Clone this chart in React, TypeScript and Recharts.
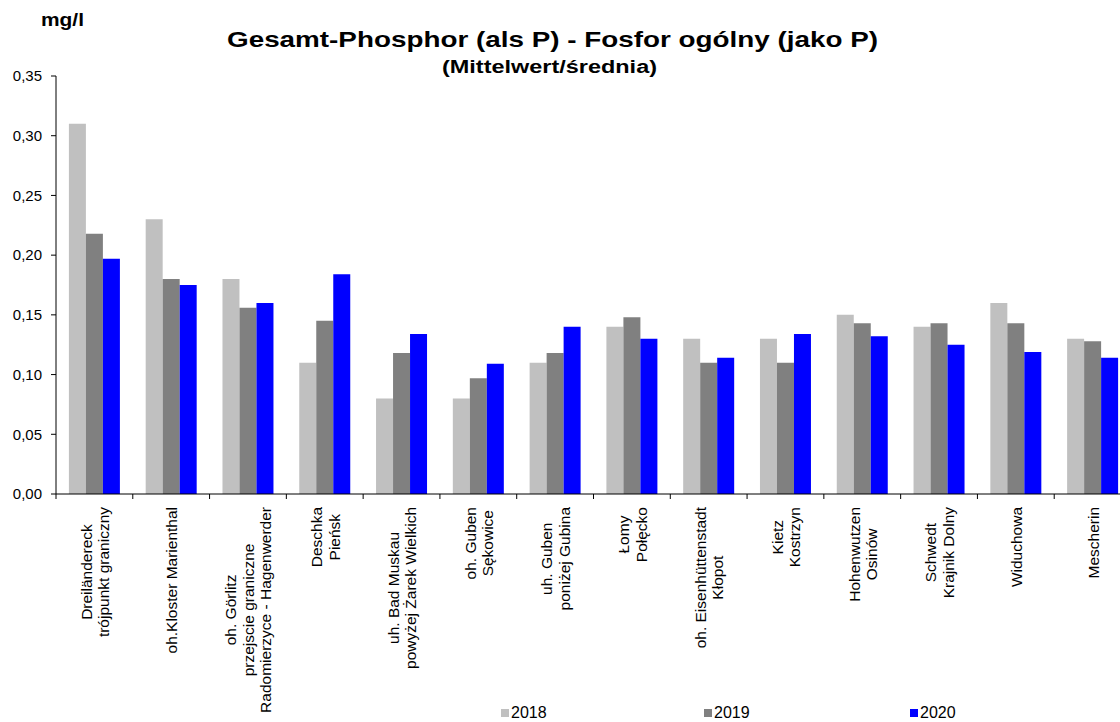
import { Bar, BarChart, Legend, XAxis, YAxis } from "recharts";

// Gesamt-Phosphor, mean per station, 2018-2020 (Excel-style grouped bars).

const categories = [
  "Dreiländereck\ntrójpunkt graniczny",
  "oh.Kloster Marienthal",
  "oh. Görlitz\nprzejscie graniczne\nRadomierzyce - Hagenwerder",
  "Deschka\nPieńsk",
  "uh. Bad Muskau\npowyżej Żarek Wielkich",
  "oh. Guben\nSękowice",
  "uh. Guben\nponiżej Gubina",
  "Łomy\nPołęcko",
  "oh. Eisenhüttenstadt\nKłopot",
  "Kietz\nKostrzyn",
  "Hohenwutzen\nOsinów",
  "Schwedt\nKrajnik Dolny",
  "Widuchowa",
  "Mescherin",
];

const values2018 = [0.31, 0.23, 0.18, 0.11, 0.08, 0.08, 0.11, 0.14, 0.13, 0.13, 0.15, 0.14, 0.16, 0.13];
const values2019 = [0.218, 0.18, 0.156, 0.145, 0.118, 0.097, 0.118, 0.148, 0.11, 0.11, 0.143, 0.143, 0.143, 0.128];
const values2020 = [0.197, 0.175, 0.16, 0.184, 0.134, 0.109, 0.14, 0.13, 0.114, 0.134, 0.132, 0.125, 0.119, 0.114];

const yTicks = [0, 0.05, 0.1, 0.15, 0.2, 0.25, 0.3, 0.35];

const seriesNames = ["2018", "2019", "2020"];
const seriesColors = ["#c0c0c0", "#808080", "#0000ff"];

const data = categories.map((name, i) => ({
  name,
  s2018: values2018[i],
  s2019: values2019[i],
  s2020: values2020[i],
}));

const FONT = '"Liberation Sans", Arial, sans-serif';
const LABEL_SIZE = 15.5;
const LINE_H = 17.5;

// canvas is only used to find the longest line so the label block can be
// centred like Excel does
const measureCtx =
  typeof document !== "undefined" ? document.createElement("canvas").getContext("2d") : null;
const textWidth = (s: string) => {
  if (!measureCtx) return s.length * 7;
  measureCtx.font = `${LABEL_SIZE}px ${FONT}`;
  return measureCtx.measureText(s).width;
};

const fmt = (v: number) => v.toFixed(2).replace(".", ",");

const CategoryTick = (props: any) => {
  const { x, y, payload } = props;
  const half = payload?.offset ?? 38.4;
  const lines = String(payload.value).split("\n");
  const maxW = Math.max(...lines.map(textWidth));
  const n = lines.length;
  return (
    <g>
      {/* Excel puts the tick marks between categories */}
      <line x1={x - half} x2={x - half} y1={y} y2={y + 5} stroke="#000" />
      <g transform={`translate(${x + 6}, ${y + 13 + maxW / 2}) rotate(-90)`}>
        {lines.map((l, i) => (
          <text
            key={i}
            x={0}
            y={(i - (n - 1) / 2) * LINE_H}
            textAnchor="middle"
            fontSize={LABEL_SIZE}
            fontFamily={FONT}
            fill="#000"
          >
            {l}
          </text>
        ))}
      </g>
    </g>
  );
};

const legendX = [501, 704, 910];

const LegendContent = (props: any) => {
  const items = props.payload ?? [];
  return (
    <div style={{ position: "relative", width: 1120, height: 20 }}>
      {items.map((it: any, i: number) => (
        <div
          key={it.value}
          style={{
            position: "absolute",
            left: legendX[i],
            top: 0,
            display: "flex",
            alignItems: "center",
            height: 20,
          }}
        >
          <span style={{ width: 8, height: 8, background: it.color, marginRight: 2 }} />
          <span style={{ fontSize: 16, fontFamily: FONT, color: "#000", lineHeight: "20px" }}>
            {it.value}
          </span>
        </div>
      ))}
    </div>
  );
};

export default function App() {
  return (
    <div
      style={{
        position: "fixed",
        left: 0,
        top: 0,
        width: 1120,
        height: 722,
        overflow: "hidden",
        background: "#fff",
      }}
    >
      <BarChart
        width={1140}
        height={722}
        data={data}
        margin={{ top: 76, right: 9, left: 0, bottom: 0 }}
        barCategoryGap="16.8%"
        barGap={0}
      >
        <XAxis
          dataKey="name"
          interval={0}
          height={228}
          tickSize={0}
          tickMargin={0}
          tickLine={false}
          axisLine={{ stroke: "#000" }}
          tick={<CategoryTick />}
        />
        <YAxis
          width={56}
          domain={[0, 0.35]}
          ticks={yTicks}
          interval={0}
          tickFormatter={fmt}
          tickSize={5}
          tickMargin={9}
          axisLine={{ stroke: "#000" }}
          tickLine={{ stroke: "#000" }}
          tick={{ fill: "#000", fontSize: 15, fontFamily: FONT }}
        />
        <Legend
          layout="horizontal"
          verticalAlign="middle"
          align="center"
          content={<LegendContent />}
          wrapperStyle={{ top: 703, left: 0, width: 1120, height: 20 }}
        />
        <Bar dataKey="s2018" name={seriesNames[0]} fill={seriesColors[0]} isAnimationActive={false} />
        <Bar dataKey="s2019" name={seriesNames[1]} fill={seriesColors[1]} isAnimationActive={false} />
        <Bar dataKey="s2020" name={seriesNames[2]} fill={seriesColors[2]} isAnimationActive={false} />
      </BarChart>

      <svg
        width={1120}
        height={90}
        style={{ position: "absolute", left: 0, top: 0, pointerEvents: "none" }}
      >
        <text x={41} y={26} fontSize={18} fontWeight="bold" fontFamily={FONT} textLength={43} lengthAdjust="spacingAndGlyphs">
          mg/l
        </text>
        <text x={227} y={47} fontSize={22} fontWeight="bold" fontFamily={FONT} textLength={651} lengthAdjust="spacingAndGlyphs">
          Gesamt-Phosphor (als P) - Fosfor ogólny (jako P)
        </text>
        <text x={442} y={73} fontSize={18} fontWeight="bold" fontFamily={FONT} textLength={215} lengthAdjust="spacingAndGlyphs">
          (Mittelwert/średnia)
        </text>
      </svg>
    </div>
  );
}
